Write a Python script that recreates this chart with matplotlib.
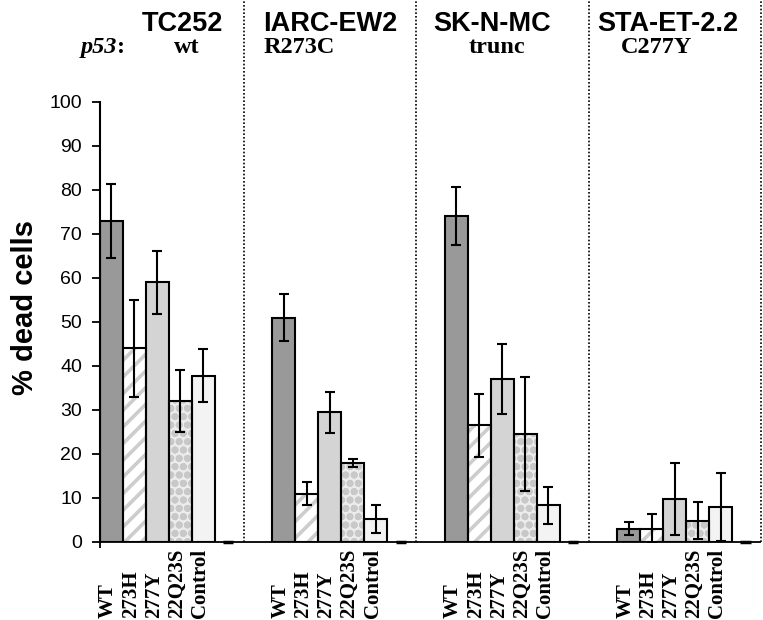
import matplotlib
matplotlib.use("Agg")
import matplotlib.pyplot as plt
import matplotlib.transforms as mtransforms
import numpy as np

# cell lines and their p53 status
cells = ["TC252", "IARC-EW2", "SK-N-MC", "STA-ET-2.2"]
p53_status = ["wt", "R273C", "trunc", "C277Y"]
constructs = ["WT", "273H", "277Y", "22Q23S", "Control"]

# % dead cells, one list per construct (order follows cells)
wt_vals = [73, 51, 74, 3]
h273_vals = [44, 11, 26.5, 3]
y277_vals = [59, 29.5, 37, 9.7]
q22_vals = [32, 18, 24.6, 4.8]
ctrl_vals = [37.8, 5.2, 8.3, 8]

wt_err = [8.4, 5.4, 6.6, 1.5]
h273_err = [11, 2.7, 7.1, 3.3]
y277_err = [7.2, 4.7, 7.9, 8.2]
q22_err = [7, 0.9, 12.9, 4.2]
ctrl_err = [6, 3.2, 4.3, 7.7]

values = [wt_vals, h273_vals, y277_vals, q22_vals, ctrl_vals]
errors = [wt_err, h273_err, y277_err, q22_err, ctrl_err]

plt.rcParams["hatch.linewidth"] = 2.6

sans = "Liberation Sans"
serif = "Liberation Serif"

fig = plt.figure(figsize=(7.63, 6.2), dpi=100)
ax = fig.add_axes([100 / 763, 1 - 542 / 620, 660 / 763, 440 / 620])

group_step = 7.5
width = 1.0
styles = [
    dict(color="#999999", hatch=None, hcol="#999999"),
    dict(color="white", hatch="//", hcol="#cdcdcd"),
    dict(color="#d4d4d4", hatch=None, hcol="#d4d4d4"),
    dict(color="#ececec", hatch="oo", hcol="#c8c8c8"),
    dict(color="#f3f3f3", hatch=None, hcol="#f3f3f3"),
]

group_x = np.arange(len(cells)) * group_step
for i, (vals, errs, st) in enumerate(zip(values, errors, styles)):
    x = group_x + i + 0.5
    ax.bar(x, vals, width, color=st["color"], edgecolor=st["hcol"],
           hatch=st["hatch"], linewidth=0, zorder=2)
    ax.bar(x, vals, width, fill=False, edgecolor="black", linewidth=1.5,
           yerr=errs, zorder=3,
           error_kw=dict(ecolor="black", elinewidth=1.5, capsize=3.6, capthick=1.5, zorder=4))

# small empty slot marks on the baseline after each group
for gx in group_x:
    ax.plot([gx + 5.35, gx + 5.8], [0, 0], color="black", lw=2.5,
            solid_capstyle="butt", zorder=5, clip_on=False)

# dotted dividers between cell lines, running up past the axes
for gx in group_x:
    ax.axvline(gx + 6.25, ymin=0, ymax=542 / 440, color="black", lw=1.2,
               linestyle=(0, (1, 1.2)), clip_on=False, zorder=1)

ax.set_xlim(0, 28.7)
ax.set_ylim(0, 100)
ax.set_yticks(np.arange(0, 101, 10))
ax.tick_params(axis="y", direction="out", length=6, width=1.3, pad=7, labelsize=14)
for lab in ax.get_yticklabels():
    lab.set_fontfamily(sans)
ax.set_xticks([0])
ax.set_xticklabels([""])
ax.tick_params(axis="x", direction="out", length=4, width=1.3)

for side in ["top", "right"]:
    ax.spines[side].set_visible(False)
ax.spines["left"].set_linewidth(1.5)
ax.spines["bottom"].set_linewidth(1.3)

ax.set_ylabel("% dead cells", fontsize=21, fontweight="bold", family=sans)
ax.yaxis.set_label_coords(-0.092, 0.532)

# construct labels under each bar, bottom aligned at the figure edge
trans = mtransforms.blended_transform_factory(ax.transData, fig.transFigure)
for gx in group_x:
    for i, name in enumerate(constructs):
        ax.text(gx + i + 0.5 - 0.15, 0.004, name, transform=trans, rotation=90,
                ha="center", va="bottom", fontsize=15, fontweight="bold",
                family=serif)

# headers: cell line names and p53 status
title_x = [3.59, 10.02, 17.07, 24.67]
sub_x = [3.76, 8.67, 17.28, 24.2]
for tx, sx, name, st in zip(title_x, sub_x, cells, p53_status):
    ax.text(tx, (542 - 31) / 4.4, name, ha="center", va="baseline", fontsize=19.5,
            fontweight="bold", family=sans, clip_on=False)
    ax.text(sx, (542 - 53) / 4.4, st, ha="center", va="baseline", fontsize=17.5,
            fontweight="bold", family=serif, clip_on=False)
ax.text((117 - 99.5) / 23, (542 - 53) / 4.4, "p53", ha="right", va="baseline",
        fontsize=17.5, fontweight="bold", fontstyle="italic", family=serif, clip_on=False)
ax.text((117 - 99.5) / 23, (542 - 53) / 4.4, ":", ha="left", va="baseline",
        fontsize=17.5, fontweight="bold", family=serif, clip_on=False)

fig.savefig("out.png", dpi=100)
